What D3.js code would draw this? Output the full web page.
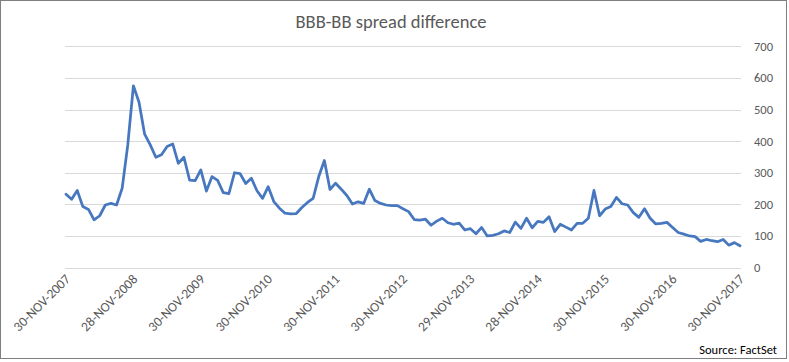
<!DOCTYPE html>
<html>
<head>
<meta charset="utf-8">
<script src="https://cdn.jsdelivr.net/npm/d3@7"></script>
<style>
  body { margin: 0; background: #fff; }
  svg { display: block; font-family: Calibri, Carlito, Lato, sans-serif; }
</style>
</head>
<body>
<svg id="chart"></svg>
<script>
const WIDTH = 789;
const HEIGHT = 362;

// monthly spread difference, Nov 2007 .. Nov 2017 (bp)
const spread = [
  232, 216, 244, 193, 184, 151, 164, 198, 203, 198, 251, 388,
  575, 523, 422, 388, 349, 357, 383, 391, 330, 349, 277, 275,
  309, 242, 288, 276, 237, 234, 300, 297, 266, 283, 243, 219,
  256, 209, 188, 172, 170, 171, 190, 206, 219, 288, 339, 247,
  267, 248, 228, 201, 208, 203, 248, 212, 203, 198, 196, 196,
  186, 177, 152, 150, 153, 134, 147, 156, 142, 137, 141, 119,
  123, 107, 127, 100, 102, 107, 116, 111, 144, 124, 156, 126,
  146, 143, 161, 114, 137, 128, 119, 140, 140, 156, 244, 164,
  185, 193, 222, 202, 198, 174, 159, 186, 156, 138, 140, 143,
  127, 111, 106, 100, 98, 83, 89, 85, 82, 89, 71, 79,
  69
];
const months = d3.timeMonth.range(new Date(2007, 10, 1), new Date(2017, 11, 1));
const tickLabels = [
  '30-NOV-2007', '28-NOV-2008', '30-NOV-2009', '30-NOV-2010', '30-NOV-2011',
  '30-NOV-2012', '29-NOV-2013', '28-NOV-2014', '30-NOV-2015', '30-NOV-2016',
  '30-NOV-2017'
];
const yTicks = [0, 100, 200, 300, 400, 500, 600, 700];

const svg = d3.select('#chart').attr('width', WIDTH).attr('height', HEIGHT);

// chart frame
svg.append('rect')
  .attr('x', 0.5).attr('y', 0.5)
  .attr('width', 786).attr('height', 358)
  .attr('fill', '#fff')
  .attr('stroke', '#7f7f7f');

const x = d3.scalePoint().domain(d3.range(months.length)).range([66, 740]);
const y = d3.scaleLinear().domain([0, 700]).range([267.6, 46.3]);

// gridlines
svg.append('g')
  .selectAll('line')
  .data(yTicks)
  .join('line')
  .attr('x1', 65).attr('x2', 741)
  .attr('y1', d => Math.round(y(d)) + 0.5)
  .attr('y2', d => Math.round(y(d)) + 0.5)
  .attr('stroke', '#d9d9d9')
  .attr('stroke-width', 1);

// right-hand value labels
svg.append('g')
  .selectAll('text')
  .data(yTicks)
  .join('text')
  .attr('x', 754)
  .attr('y', d => y(d))
  .attr('dy', '0.35em')
  .attr('font-size', 12.5)
  .attr('fill', '#595959')
  .text(d => d);

// rotated date labels, one per November
svg.append('g')
  .selectAll('text')
  .data(tickLabels)
  .join('text')
  .attr('transform', (d, i) => `translate(${x(i * 12) + 5},${280}) rotate(-45)`)
  .attr('text-anchor', 'end')
  .attr('font-size', 13.5)
  .attr('fill', '#595959')
  .text(d => d);

// the series
const line = d3.line()
  .x((d, i) => x(i))
  .y(d => y(d));

svg.append('path')
  .datum(spread)
  .attr('d', line)
  .attr('fill', 'none')
  .attr('stroke', '#4677bf')
  .attr('stroke-width', 2.75)
  .attr('stroke-linejoin', 'round')
  .attr('stroke-linecap', 'round');

svg.append('text')
  .attr('x', 391).attr('y', 28)
  .attr('text-anchor', 'middle')
  .attr('font-size', 18.5)
  .attr('fill', '#595959')
  .text('BBB-BB spread difference');

svg.append('text')
  .attr('x', 777).attr('y', 354)
  .attr('text-anchor', 'end')
  .attr('font-size', 12.5)
  .attr('fill', '#000')
  .text('Source: FactSet');
</script>
</body>
</html>
